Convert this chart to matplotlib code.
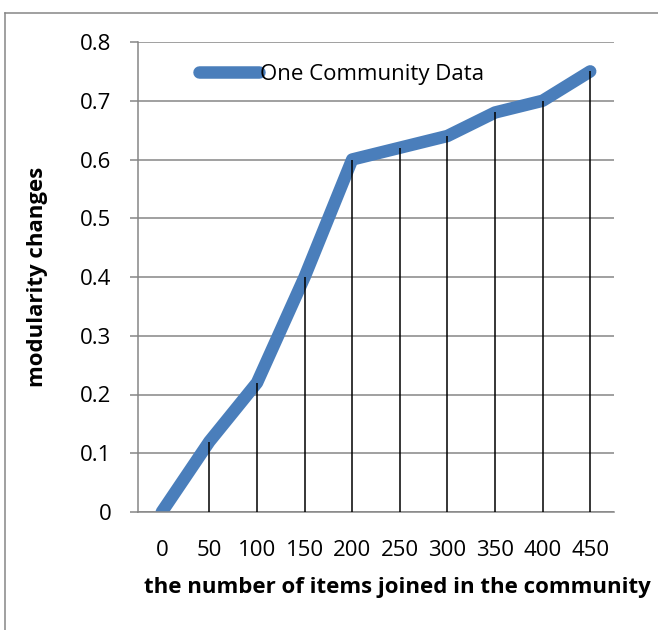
import matplotlib
matplotlib.use("Agg")
import matplotlib.pyplot as plt
from matplotlib.lines import Line2D

# data
items = [0, 50, 100, 150, 200, 250, 300, 350, 400, 450]
modularity = [0.0, 0.12, 0.22, 0.40, 0.60, 0.62, 0.64, 0.68, 0.70, 0.75]
y_ticks = [0, 0.1, 0.2, 0.3, 0.4, 0.5, 0.6, 0.7, 0.8]
y_tick_labels = ["0", "0.1", "0.2", "0.3", "0.4", "0.5", "0.6", "0.7", "0.8"]

plt.rcParams['font.family'] = ['Open Sans', 'DejaVu Sans']

W, H = 658, 630
fig = plt.figure(figsize=(W / 100, H / 100), dpi=100)
ax = fig.add_axes([138 / W, 1 - 512 / H, (614 - 138) / W, (512 - 42) / H])

grid_col = "#868686"
blue = "#4A7EBB"
pos = list(range(len(items)))

ax.plot(pos, modularity, color=blue, lw=9, solid_capstyle="round",
        solid_joinstyle="round", label="One Community Data", zorder=2)
ax.vlines(pos, 0, modularity, colors="black", lw=1.1, zorder=3)

ax.set_xlim(-0.5, len(items) - 0.5)
ax.set_ylim(0, 0.8)
ax.set_yticks(y_ticks)
ax.set_yticklabels(y_tick_labels)
ax.set_xticks(pos)
ax.set_xticklabels([str(v) for v in items])
ax.yaxis.grid(True, color=grid_col, lw=1.1)
ax.set_axisbelow(True)
ax.tick_params(axis="y", length=6, width=1.1, color=grid_col, labelsize=16, pad=13)
ax.tick_params(axis="x", length=0, labelsize=16, pad=20)

for s in ["top", "right"]:
    ax.spines[s].set_visible(False)
for s in ["left", "bottom"]:
    ax.spines[s].set_color(grid_col)
    ax.spines[s].set_linewidth(1.1)

ax.set_xlabel("the number of items joined in the community", fontsize=16,
              fontweight="bold", labelpad=12)
ax.xaxis.label.set_x(0.544)
ax.set_ylabel("modularity changes", fontsize=16, fontweight="bold", labelpad=23)

ax.legend(loc="upper left", bbox_to_anchor=(52 / 476, 1 - 13 / 470), frameon=False,
          fontsize=16, handlelength=2.7, handletextpad=0.05, borderaxespad=0)

# outer chart border
fig.add_artist(Line2D([5 / W, 1], [1 - 13 / H, 1 - 13 / H], color=grid_col, lw=1.1))
fig.add_artist(Line2D([5 / W, 5 / W], [0, 1 - 13 / H], color=grid_col, lw=1.1))

fig.savefig("out.png", dpi=100)
